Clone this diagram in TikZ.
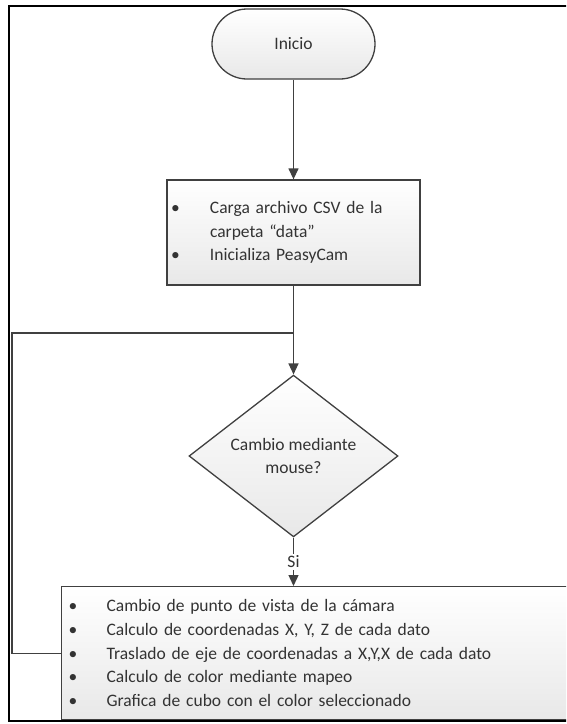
\documentclass[tikz,border=0pt]{standalone}
\usepackage{fontspec}
\setmainfont{Carlito}
\usetikzlibrary{arrows.meta,positioning,shapes.geometric}

\begin{document}
\begin{tikzpicture}[x=1pt,y=-1pt,
  linea/.style={draw=black!75,line width=1.3pt},
  flecha/.style={linea,-{Triangle[length=11pt,width=10pt]}},
  texto/.style={text=black!80,font=\fontsize{17.5}{23.75}\selectfont},
  caja/.style={linea,texto,rectangle,top color=white,bottom color=black!9},
  ]
  \clip (0,0) rectangle (566,724); %Picture size
  \draw[line width=2pt] (580,6) -- (9,6) -- (9,721) -- (580,721); %Outer frame

  \node[caja,rounded corners=35pt,minimum width=163pt,minimum height=70pt] (inicio) at (293.5,44) {Inicio}; %Start
  \node[caja,text width=245pt,inner xsep=4pt,minimum height=105pt,align=left] (carga) at (293.5,232.5)
    {\makebox[39pt][l]{•}Carga archivo CSV de la\\\hspace*{39pt}carpeta “data”\\\makebox[39pt][l]{•}Inicializa PeasyCam}; %Load data
  \node[caja,diamond,minimum width=209pt,minimum height=142pt,inner sep=0pt,align=center] (cambio) at (293.5,456)
    {Cambio mediante\\mouse?}; %Decision
  \node[caja,anchor=north west,text width=520pt,inner xsep=7pt,minimum height=133pt,align=left] (acciones) at (61,586)
    {\makebox[38pt][l]{•}Cambio de punto de vista de la cámara\\
     \makebox[38pt][l]{•}Calculo de coordenadas X, Y, Z de cada dato\\
     \makebox[38pt][l]{•}Traslado de eje de coordenadas a X,Y,X de cada dato\\
     \makebox[38pt][l]{•}Calculo de color mediante mapeo\\
     \makebox[38pt][l]{•}Grafica de cubo con el color seleccionado}; %Actions

  \coordinate (union) at (293.5,333); %Loop joins main line

  \draw[flecha] (inicio) -- (carga); %Start to load
  \draw[flecha] (carga) -- (cambio); %Load to decision
  \draw[flecha] (cambio.south) -- node[texto,fill=white,inner sep=2pt]{Si} (cambio.south |- acciones.north); %Yes branch
  \draw[linea] (acciones.west) -- ++(-49,0) |- (union); %Loop back
\end{tikzpicture}
\end{document}
